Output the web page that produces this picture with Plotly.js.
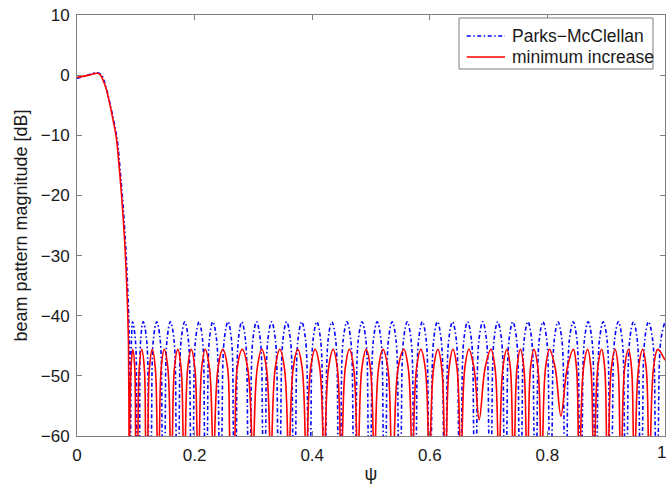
<!DOCTYPE html>
<html>
<head>
<meta charset="utf-8">
<script src="https://cdn.plot.ly/plotly-3.0.1.min.js"></script>
<style>html,body{margin:0;padding:0;background:#fff;}#chart{width:668px;height:487px;}</style>
</head>
<body>
<div id="chart"></div>
<script>
// Parks-McClellan beam pattern: psi, dB
const psi_pm = [
0,0.012,0.024,0.034,0.041,0.046,0.0565,0.068,0.0727,0.0767,0.0825,0.0865,0.0890,0.0902,0.0906,
0.0912,0.0926,0.0945,0.0993,0.1015,0.1040,
0.1065,0.1083,0.1126,0.1184,0.1216,0.1241,
0.1266,0.1299,0.1356,0.1415,0.1448,0.1473,
0.1498,0.1531,0.1589,0.1650,0.1686,0.1711,
0.1736,0.1772,0.1833,0.1894,0.1930,0.1955,
0.1980,0.2016,0.2076,0.2135,0.2168,0.2193,
0.2218,0.2251,0.2309,0.2374,0.2414,0.2439,
0.2464,0.2504,0.2568,0.2627,0.2660,0.2685,
0.2710,0.2744,0.2802,0.2865,0.2903,0.2928,
0.2953,0.2991,0.3053,0.3118,0.3157,0.3182,
0.3207,0.3246,0.3310,0.3374,0.3413,0.3438,
0.3463,0.3502,0.3565,0.3630,0.3669,0.3694,
0.3719,0.3758,0.3822,0.3887,0.3926,0.3951,
0.3976,0.4015,0.4079,0.4143,0.4182,0.4207,
0.4232,0.4271,0.4334,0.4399,0.4438,0.4463,
0.4488,0.4527,0.4591,0.4656,0.4695,0.4720,
0.4745,0.4784,0.4848,0.4913,0.4952,0.4977,
0.5002,0.5041,0.5105,0.5169,0.5208,0.5233,
0.5258,0.5297,0.5360,0.5425,0.5464,0.5489,
0.5514,0.5553,0.5617,0.5682,0.5721,0.5746,
0.5771,0.5810,0.5874,0.5938,0.5977,0.6002,
0.6027,0.6066,0.6129,0.6194,0.6233,0.6258,
0.6283,0.6322,0.6386,0.6451,0.6490,0.6515,
0.6540,0.6579,0.6643,0.6708,0.6747,0.6772,
0.6797,0.6836,0.6900,0.6964,0.7003,0.7028,
0.7053,0.7092,0.7155,0.7220,0.7259,0.7284,
0.7309,0.7348,0.7412,0.7477,0.7516,0.7541,
0.7566,0.7605,0.7669,0.7733,0.7772,0.7797,
0.7822,0.7861,0.7924,0.7989,0.8028,0.8053,
0.8078,0.8117,0.8181,0.8246,0.8285,0.8310,
0.8335,0.8374,0.8438,0.8502,0.8541,0.8566,
0.8591,0.8630,0.8693,0.8758,0.8797,0.8822,
0.8847,0.8886,0.8950,0.9015,0.9054,0.9079,
0.9104,0.9143,0.9207,0.9272,0.9311,0.9336,
0.9361,0.9400,0.9464,0.9528,0.9567,0.9592,
0.9617,0.9656,0.9719,0.9790,0.9835,0.9860,
0.9885,0.9930,1.0
];
const db_pm = [
-0.5,-0.2,0.2,0.45,0.1,-0.9,-4.9,-10.5,-15.0,-19.6,-27.9,-36.2,-44.5,-60,-75,
-60,-44,-41,-44,-60,-75,
-60,-44,-41,-44,-60,-75,
-60,-44,-41,-44,-60,-75,
-60,-44,-41,-44,-60,-75,
-60,-44,-41,-44,-60,-75,
-60,-44,-41,-44,-60,-75,
-60,-44,-41,-44,-60,-75,
-60,-44,-41,-44,-60,-75,
-60,-44,-41,-44,-60,-75,
-60,-44,-41,-44,-60,-75,
-60,-44,-41,-44,-60,-75,
-60,-44,-41,-44,-60,-75,
-60,-44,-41,-44,-60,-75,
-60,-44,-41,-44,-60,-75,
-60,-44,-41,-44,-60,-75,
-60,-44,-41,-44,-60,-75,
-60,-44,-41,-44,-60,-75,
-60,-44,-41,-44,-60,-75,
-60,-44,-41,-44,-60,-75,
-60,-44,-41,-44,-60,-75,
-60,-44,-41,-44,-60,-75,
-60,-44,-41,-44,-60,-75,
-60,-44,-41,-44,-60,-75,
-60,-44,-41,-44,-60,-75,
-60,-44,-41,-44,-60,-75,
-60,-44,-41,-44,-60,-75,
-60,-44,-41,-44,-60,-75,
-60,-44,-41,-44,-60,-75,
-60,-44,-41,-44,-60,-75,
-60,-44,-41,-44,-60,-75,
-60,-44,-41,-44,-60,-75,
-60,-44,-41,-44,-60,-75,
-60,-44,-41,-44,-60,-75,
-60,-44,-41,-44,-60,-75,
-60,-44,-41,-44,-60,-75,
-60,-44,-41,-44,-60,-75,
-60,-44,-41
];

// minimum increase beam pattern: psi, dB
const psi_mi = [
0,0.010,0.020,0.030,0.035,0.040,0.0442,0.050,0.0556,0.061,0.067,0.0715,0.0755,0.0812,0.0851,0.0875,0.0885,0.0889,
0.0895,0.0919,0.0948,0.0982,0.0996,0.1016,
0.1036,0.1059,0.1101,0.1144,0.1166,0.1186,
0.1206,0.1233,0.1280,0.1331,0.1362,0.1382,
0.1402,0.1433,0.1484,0.1544,0.1583,0.1603,
0.1623,0.1658,0.1713,0.1769,0.1804,0.1824,
0.1844,0.1884,0.1943,0.2003,0.2042,0.2062,
0.2082,0.2122,0.2181,0.2251,0.2301,0.2321,
0.2341,0.2400,0.2479,0.2560,0.2596,0.2641,
0.2686,0.2726,0.2811,0.2901,0.2970,0.2990,
0.3010,0.3067,0.3143,0.3220,0.3276,0.3296,
0.3316,0.3373,0.3449,0.3526,0.3582,0.3602,
0.3622,0.3679,0.3755,0.3828,0.3880,0.3900,
0.3920,0.3975,0.4050,0.4127,0.4183,0.4203,
0.4223,0.4280,0.4356,0.4426,0.4475,0.4495,
0.4515,0.4564,0.4632,0.4704,0.4756,0.4776,
0.4796,0.4847,0.4918,0.4988,0.5037,0.5057,
0.5077,0.5130,0.5202,0.5285,0.5337,0.5367,
0.5397,0.5463,0.5559,0.5632,0.5684,0.5704,
0.5724,0.5776,0.5848,0.5921,0.5973,0.5993,
0.6013,0.6066,0.6138,0.6202,0.6245,0.6265,
0.6285,0.6329,0.6393,0.6461,0.6509,0.6529,
0.6549,0.6597,0.6665,0.6752,0.6840,0.6940,0.7039,0.7108,0.7156,0.7176,
0.7196,0.7244,0.7312,0.7369,0.7406,0.7426,
0.7446,0.7484,0.7541,0.7599,0.7637,0.7657,
0.7677,0.7714,0.7771,0.7837,0.7882,0.7902,
0.7922,0.7969,0.8035,0.8133,0.8230,0.8337,0.8443,0.8494,0.8525,0.8545,
0.8565,0.8615,0.8685,0.8739,0.8772,0.8792,
0.8812,0.8858,0.8923,0.8974,0.9005,0.9025,
0.9045,0.9089,0.9153,0.9202,0.9231,0.9251,
0.9271,0.9315,0.9379,0.9430,0.9461,0.9481,
0.9501,0.9551,0.9621,0.9679,0.9716,0.9736,
0.9756,0.9806,0.9876,1.0
];
const db_mi = [
-0.35,-0.2,0.0,0.25,0.3,0.0,-0.8,-2.4,-4.7,-7.3,-10.5,-15.0,-19.6,-27.9,-36.2,-44.5,-60,-75,
-60,-48.6,-45.6,-48.6,-60,-75,
-60,-48.6,-45.6,-48.6,-60,-75,
-60,-48.6,-45.6,-48.6,-60,-75,
-60,-48.6,-45.6,-48.6,-60,-75,
-60,-48.6,-45.6,-48.6,-60,-75,
-60,-48.6,-45.6,-48.6,-60,-75,
-60,-48.6,-45.6,-48.6,-60,-75,
-60,-48.6,-45.6,-48.6,-60,-75,
-60,-48.6,-45.6,-48.6,-60,-75,
-60,-48.6,-45.6,-48.6,-60,-75,
-60,-48.6,-45.6,-48.6,-60,-75,
-60,-48.6,-45.6,-48.6,-60,-75,
-60,-48.6,-45.6,-48.6,-60,-75,
-60,-48.6,-45.6,-48.6,-60,-75,
-60,-48.6,-45.6,-48.6,-60,-75,
-60,-48.6,-45.6,-48.6,-60,-75,
-60,-48.6,-45.6,-48.6,-60,-75,
-60,-48.6,-45.6,-48.6,-60,-75,
-60,-48.6,-45.6,-48.6,-60,-75,
-60,-48.6,-45.6,-48.6,-60,-75,
-60,-48.6,-45.6,-48.6,-60,-75,
-60,-48.6,-45.6,-48.7,-57.3,-48.7,-45.6,-48.6,-60,-75,
-60,-48.6,-45.6,-48.6,-60,-75,
-60,-48.6,-45.6,-48.6,-60,-75,
-60,-48.6,-45.6,-48.6,-60,-75,
-60,-48.6,-45.6,-48.7,-56.7,-48.7,-45.6,-48.6,-60,-75,
-60,-48.6,-45.6,-48.6,-60,-75,
-60,-48.6,-45.6,-48.6,-60,-75,
-60,-48.6,-45.6,-48.6,-60,-75,
-60,-48.6,-45.6,-48.6,-60,-75,
-60,-48.6,-45.6,-48.6,-60,-75,
-60,-48.6,-45.6,-47.4
];

const xTicks = [0, 0.2, 0.4, 0.6, 0.8, 1];
const xTickText = ['0', '0.2', '0.4', '0.6', '0.8', ''];
const xLastLabel = '1';
const yTicks = [-60, -50, -40, -30, -20, -10, 0, 10];
const yTickText = ['\u221260', '\u221250', '\u221240', '\u221230', '\u221220', '\u221210', '0', '10'];
const seriesNames = ['Parks\u2212McClellan', 'minimum increase'];

const axisColor = '#7f7f7f';
const pmColor = '#0000ff', miColor = '#ff0000';
const pmDash = '4px,2.5px,1.5px,2.5px';

const traces = [
  {x: psi_pm, y: db_pm, name: seriesNames[0], type: 'scatter', mode: 'lines', showlegend: false,
   line: {color: pmColor, width: 1.6, dash: pmDash, shape: 'spline', smoothing: 1}},
  {x: psi_mi, y: db_mi, name: seriesNames[1], type: 'scatter', mode: 'lines', showlegend: false,
   line: {color: miColor, width: 1.6, shape: 'spline', smoothing: 1}}
];

// legend box (paper coordinates)
const lg = {x0: 0.6497, x1: 0.9796, y0: 0.8717, y1: 0.9929, s0: 0.6628, s1: 0.7279, tx: 0.7364, r1: 0.9501, r2: 0.9002};

const layout = {
  width: 668, height: 487,
  margin: {l: 77, r: 3, t: 15, b: 51, pad: 0},
  paper_bgcolor: '#ffffff', plot_bgcolor: '#ffffff',
  font: {family: 'Liberation Sans, Arial, Helvetica, sans-serif', size: 17, color: '#1a1a1a'},
  showlegend: false,
  xaxis: {
    range: [0, 1], tickvals: xTicks, ticktext: xTickText,
    ticks: 'inside', ticklen: 5, tickwidth: 1, tickcolor: axisColor,
    showline: true, linecolor: axisColor, linewidth: 1, mirror: 'ticks',
    showgrid: false, zeroline: false, ticklabelstandoff: 4,
    title: {text: '\u03c8', font: {size: 18}, standoff: 2}
  },
  yaxis: {
    range: [-60, 10], tickvals: yTicks, ticktext: yTickText,
    ticks: 'inside', ticklen: 5, tickwidth: 1, tickcolor: axisColor,
    showline: true, linecolor: axisColor, linewidth: 1, mirror: 'ticks',
    showgrid: false, zeroline: false, ticklabelstandoff: 3, ticklabeloverflow: 'allow',
    title: {text: 'beam pattern magnitude [dB]', font: {size: 18}, standoff: 8}
  },
  shapes: [
    {type: 'rect', xref: 'paper', yref: 'paper', x0: lg.x0, x1: lg.x1, y0: lg.y0, y1: lg.y1,
     line: {color: axisColor, width: 1}, fillcolor: '#ffffff', layer: 'above'},
    {type: 'line', xref: 'paper', yref: 'paper', x0: lg.s0, x1: lg.s1, y0: lg.r1, y1: lg.r1,
     line: {color: pmColor, width: 1.6, dash: pmDash}, layer: 'above'},
    {type: 'line', xref: 'paper', yref: 'paper', x0: lg.s0, x1: lg.s1, y0: lg.r2, y1: lg.r2,
     line: {color: miColor, width: 1.6}, layer: 'above'}
  ],
  annotations: [
    {xref: 'paper', yref: 'paper', x: lg.tx, y: lg.r1, xanchor: 'left', yanchor: 'middle',
     text: seriesNames[0], showarrow: false, font: {size: 17.5}},
    {xref: 'paper', yref: 'paper', x: lg.tx, y: lg.r2, xanchor: 'left', yanchor: 'middle',
     text: seriesNames[1], showarrow: false, font: {size: 17.5}},
    {xref: 'paper', yref: 'paper', x: 1.0048, y: 0, xanchor: 'right', yanchor: 'top', yshift: -5,
     text: xLastLabel, showarrow: false, font: {size: 17}}
  ]
};

Plotly.newPlot('chart', traces, layout, {displayModeBar: false, staticPlot: true});
</script>
</body>
</html>
